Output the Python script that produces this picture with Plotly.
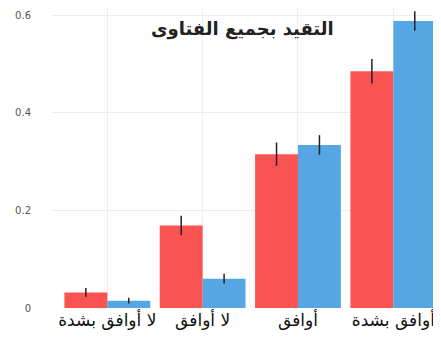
import plotly.graph_objects as go

categories = ["لا أوافق بشدة", "لا أوافق", "أوافق", "أوافق بشدة"]
red_values = [0.032, 0.169, 0.315, 0.485]
red_errors = [0.009, 0.02, 0.024, 0.025]
blue_values = [0.015, 0.06, 0.334, 0.588]
blue_errors = [0.006, 0.01, 0.02, 0.02]
y_ticks = [0, 0.2, 0.4, 0.6]
y_tick_labels = ["0", "0.2", "0.4", "0.6"]
title_text = "التقيد بجميع الفتاوى"

fig = go.Figure()
fig.add_trace(go.Bar(
    x=categories, y=red_values, marker=dict(color="#FA5452", line=dict(width=0)),
    error_y=dict(type="data", array=red_errors, color="#222222", thickness=1.5, width=0),
))
fig.add_trace(go.Bar(
    x=categories, y=blue_values, marker=dict(color="#56A6E4", line=dict(width=0)),
    error_y=dict(type="data", array=blue_errors, color="#222222", thickness=1.5, width=0),
))

# page body has an 8px margin, so figure is 433x348 placed at (8, 8)
fig.update_layout(
    width=433, height=348,
    margin=dict(l=44, r=0, t=0, b=48, autoexpand=False),
    barmode="group", bargap=0.1, bargroupgap=0,
    showlegend=False,
    plot_bgcolor="white", paper_bgcolor="white",
    font=dict(family="DejaVu Sans"),
    annotations=[dict(
        text="<b>" + title_text + "</b>",
        x=(242 - 52) / (441 - 52), xref="paper", y=0.598, yref="y", yanchor="top",
        showarrow=False, font=dict(size=18, color="#222222"),
    )],
)

fig.update_xaxes(
    type="category", range=[-0.58, 3.5], automargin=False,
    showgrid=True, gridcolor="#EEEEEE", gridwidth=1,
    ticks="", showline=False, zeroline=False,
    tickfont=dict(size=17, color="#111111", family="DejaVu Sans"),
)
fig.update_yaxes(
    range=[0, 0.6144], tickvals=y_ticks, ticktext=y_tick_labels, automargin=False,
    showgrid=True, gridcolor="#EEEEEE", gridwidth=1,
    zeroline=False, showline=False, ticks="",
    tickfont=dict(size=10, color="#555555"), ticklabelstandoff=20,
)

fig.write_html("out.html")
